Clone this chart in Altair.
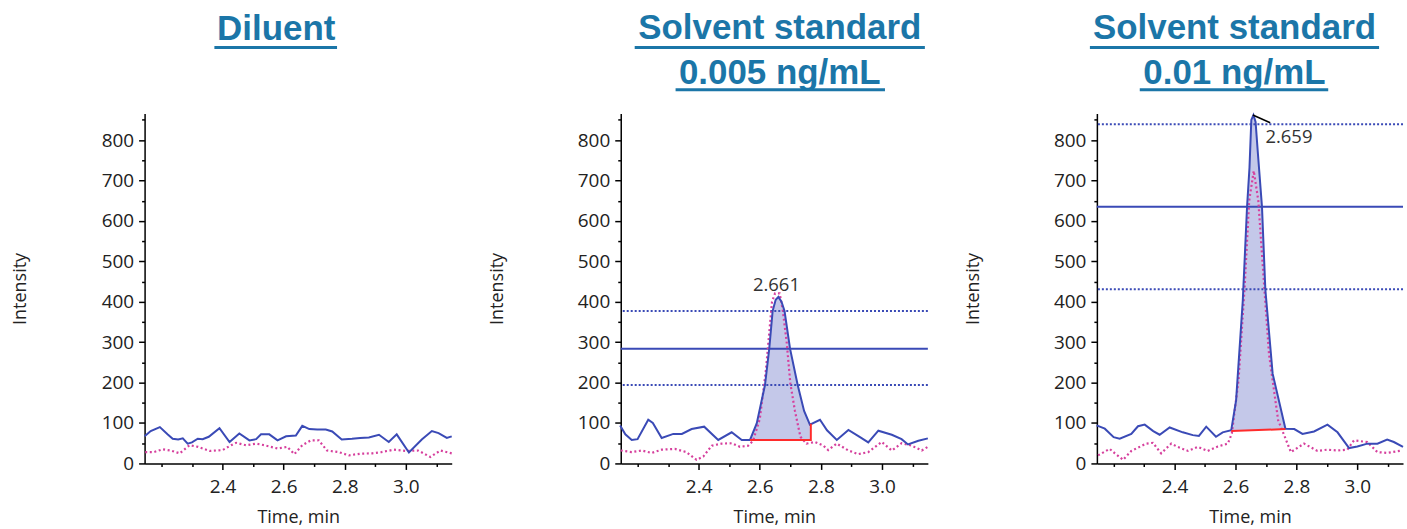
import altair as alt
import pandas as pd
import numpy as np

# ---------------- data ----------------
# Panel 1: Diluent
p1_blue_t = [2.145, 2.165, 2.195, 2.22, 2.237, 2.255, 2.27, 2.286, 2.3, 2.319, 2.335, 2.355, 2.39, 2.423, 2.455,
             2.488, 2.51, 2.526, 2.553, 2.58, 2.608, 2.64, 2.661, 2.684, 2.71, 2.738, 2.759, 2.79, 2.824, 2.85,
             2.879, 2.912, 2.944, 2.97, 3.01, 3.052, 3.085, 3.107, 3.134, 3.15]
p1_blue_v = [67, 80, 90, 72, 61, 59, 62, 49, 52, 61, 60, 66, 87, 53, 74, 57, 60, 72, 72, 57,
             67, 69, 93, 85, 84, 84, 79, 59, 61, 63, 64, 71, 53, 72, 27, 59, 80, 75, 63, 67]
p1_pink_t = [2.147, 2.175, 2.204, 2.23, 2.26, 2.292, 2.32, 2.358, 2.4, 2.428, 2.445, 2.477, 2.51, 2.537, 2.58,
             2.612, 2.635, 2.661, 2.689, 2.715, 2.742, 2.78, 2.814, 2.85, 2.89, 2.92, 2.961, 2.998, 3.04, 3.08,
             3.113, 3.15]
p1_pink_v = [28, 28, 35, 32, 25, 45, 41, 31, 33, 45, 51, 45, 49, 45, 37, 41, 23, 45, 57, 57,
             32, 28, 20, 24, 25, 28, 34, 31, 32, 16, 32, 25]

# Panel 2: Solvent standard 0.005 ng/mL
p2_blue_t = [2.143, 2.16, 2.181, 2.2, 2.235, 2.25, 2.279, 2.317, 2.345, 2.377, 2.418, 2.464, 2.508, 2.541, 2.568,
             2.59, 2.617, 2.631, 2.642, 2.652, 2.661, 2.671, 2.681, 2.699, 2.724, 2.745, 2.764, 2.797, 2.82, 2.852,
             2.89, 2.928, 2.955, 2.988, 3.032, 3.064, 3.085, 3.119, 3.15]
p2_blue_v = [94, 72, 58, 60, 108, 100, 63, 73, 73, 85, 91, 58, 77, 58, 58, 99, 194, 284, 377, 405,
             412, 400, 377, 284, 194, 130, 96, 108, 82, 58, 83, 65, 52, 81, 71, 60, 47, 56, 62]
p2_pink_t = [2.145, 2.181, 2.214, 2.246, 2.279, 2.322, 2.36, 2.393, 2.415, 2.443, 2.475, 2.508, 2.535, 2.562,
             2.578, 2.6, 2.62, 2.64, 2.65, 2.665, 2.675, 2.688, 2.70, 2.715, 2.733, 2.753, 2.78, 2.808, 2.824,
             2.852, 2.89, 2.922, 2.955, 2.999, 3.032, 3.064, 3.097, 3.13, 3.15]
p2_pink_v = [32, 28, 32, 26, 34, 36, 28, 9, 17, 44, 49, 50, 41, 44, 56, 110, 230, 400, 421, 421,
             380, 300, 198, 130, 66, 49, 53, 44, 33, 49, 32, 23, 28, 53, 32, 50, 44, 32, 41]
p2_base_t = [2.568, 2.767, 2.767]
p2_base_v = [58, 58, 98]
p2_solid = [284]
p2_dotted = [377, 194]
p2_label_t = [2.661]
p2_label_v = [412]
p2_label = ["2.661"]

# Panel 3: Solvent standard 0.01 ng/mL
p3_blue_t = [2.144, 2.171, 2.2, 2.22, 2.258, 2.28, 2.302, 2.33, 2.351, 2.384, 2.427, 2.46, 2.48, 2.504, 2.536,
             2.558, 2.586, 2.602, 2.624, 2.638, 2.646, 2.652, 2.659, 2.666, 2.673, 2.687, 2.698, 2.722, 2.764,
             2.793, 2.82, 2.858, 2.902, 2.935, 2.973, 3.0, 3.033, 3.066, 3.098, 3.12, 3.15]
p3_blue_v = [94, 86, 65, 61, 73, 92, 96, 80, 71, 89, 77, 70, 68, 91, 66, 77, 82, 156, 403, 635,
             732, 850, 862, 845, 773, 635, 431, 222, 86, 85, 73, 79, 96, 77, 38, 42, 49, 49, 59, 53, 41]
p3_pink_t = [2.149, 2.187, 2.204, 2.231, 2.258, 2.307, 2.329, 2.356, 2.389, 2.41, 2.444, 2.477, 2.509, 2.542,
             2.575, 2.588, 2.61, 2.63, 2.645, 2.66, 2.675, 2.69, 2.71, 2.74, 2.765, 2.782, 2.825, 2.869, 2.9,
             2.935, 2.967, 2.989, 3.033, 3.066, 3.098, 3.147]
p3_pink_v = [20, 36, 25, 9, 31, 49, 51, 25, 49, 41, 31, 41, 31, 42, 49, 74, 206, 436, 650, 724,
             650, 485, 271, 107, 60, 28, 49, 31, 34, 32, 34, 57, 53, 28, 26, 32]
p3_base_t = [2.586, 2.764]
p3_base_v = [80, 85]
p3_solid = [635]
p3_dotted = [839, 431]
p3_label_t = [2.659]
p3_label_v = [862]
p3_label = ["2.659"]
p3_arrow = {"t": [2.657], "v": [862], "t2": [2.714], "v2": [843]}

titles = [["Diluent"], ["Solvent standard", "0.005 ng/mL"], ["Solvent standard", "0.01 ng/mL"]]

X_TICKS = [2.2, 2.3, 2.4, 2.5, 2.6, 2.7, 2.8, 2.9, 3.0, 3.1]
Y_TICKS = [0, 50, 100, 150, 200, 250, 300, 350, 400, 450, 500, 550, 600, 650, 700, 750, 800, 850]
X_DOMAIN = [2.145, 3.15]
Y_DOMAIN = [0, 866]

# ---------------- style ----------------
BLUE = "#3a4ab6"
PINK = "#d6409d"
RED = "#ff2b2b"
TITLE_C = "#1b76a8"
TEXT_C = "#222222"
H = 351

X_MAJOR = "indexof([2.4, 2.6, 2.8, 3], datum.value) >= 0"
Y_MAJOR = "datum.value % 100 === 0"


def enc_x():
    return alt.X("t:Q", scale=alt.Scale(domain=X_DOMAIN, nice=False, zero=False),
                 axis=alt.Axis(values=X_TICKS, title="Time, min",
                               labelExpr=f"{X_MAJOR} ? format(datum.value, '.1f') : ''",
                               tickSize={"condition": {"test": X_MAJOR, "value": 6}, "value": 3},
                               labelOverlap=False, labelFlush=False, labelPadding=8,
                               titleY=59, titleBaseline="alphabetic"))


def enc_y():
    return alt.Y("v:Q", scale=alt.Scale(domain=Y_DOMAIN, nice=False, zero=True),
                 axis=alt.Axis(values=Y_TICKS, title="Intensity",
                               labelExpr=f"{Y_MAJOR} ? format(datum.value, 'd') : ''",
                               tickSize={"condition": {"test": Y_MAJOR, "value": 6}, "value": 3},
                               labelOverlap=False, labelFlush=False, labelPadding=5,
                               titleX=-124, titleY=H / 2, titleBaseline="middle", titleAngle=270))


def panel(idx, bt, bv, pt, pv, width, cx, underlines, base_t=None, base_v=None,
          solid=(), dotted=(), lab_t=None, lab_v=None, lab=None, lab_align="center",
          lab_dx=0, lab_dy=0, arrow=None):
    layers = []
    blue = pd.DataFrame({"t": bt, "v": bv})
    pink = pd.DataFrame({"t": pt, "v": pv})
    if base_t is not None:
        seg = blue[(blue["t"] >= base_t[0]) & (blue["t"] <= base_t[1])].copy()
        seg["base"] = np.interp(seg["t"], base_t[:2], base_v[:2])
        layers.append(alt.Chart(seg).mark_area(color=BLUE, opacity=0.3, line=False)
                      .encode(x=enc_x(), y=enc_y(), y2="base:Q"))
    if len(solid):
        layers.append(alt.Chart(pd.DataFrame({"v": list(solid)})).mark_rule(color=BLUE, strokeWidth=2)
                      .encode(y=enc_y()))
    if len(dotted):
        layers.append(alt.Chart(pd.DataFrame({"v": list(dotted)}))
                      .mark_rule(color=BLUE, strokeWidth=2, strokeDash=[2, 2])
                      .encode(y=enc_y()))
    layers.append(alt.Chart(pink).mark_line(color=PINK, strokeWidth=2.2, strokeDash=[2, 2.6])
                  .encode(x=enc_x(), y=enc_y()))
    layers.append(alt.Chart(blue).mark_line(color=BLUE, strokeWidth=2)
                  .encode(x=enc_x(), y=enc_y()))
    if base_t is not None:
        base = pd.DataFrame({"t": base_t, "v": base_v, "i": list(range(len(base_t)))})
        layers.append(alt.Chart(base).mark_line(color=RED, strokeWidth=2)
                      .encode(x=enc_x(), y=enc_y(), order="i:Q"))
    if lab is not None:
        ld = pd.DataFrame({"t": lab_t, "v": lab_v, "label": lab})
        layers.append(alt.Chart(ld).mark_text(font="Open Sans", fontSize=18.5, color="#333333",
                                              align=lab_align, baseline="alphabetic",
                                              dx=lab_dx, dy=lab_dy)
                      .encode(x=enc_x(), y=enc_y(), text="label:N"))
    if arrow is not None:
        layers.append(alt.Chart(pd.DataFrame(arrow)).mark_rule(color="black", strokeWidth=1.5)
                      .encode(x=enc_x(), y=enc_y(), x2="t2:Q", y2="v2:Q"))
    # title (underlined)
    lines = titles[idx]
    ys = [-74.0] if len(lines) == 1 else [-74.5, -29.8]
    for txt, yy in zip(lines, ys):
        layers.append(alt.Chart(pd.DataFrame({"txt": [txt]}))
                      .mark_text(font="Liberation Sans", fontSize=35, fontWeight="bold", color=TITLE_C,
                                 align="center", baseline="alphabetic")
                      .encode(text="txt:N", x=alt.value(cx), y=alt.value(yy)))
    for (x1, x2, yy) in underlines:
        layers.append(alt.Chart(pd.DataFrame({"u": [0]}))
                      .mark_rule(color=TITLE_C, strokeWidth=3)
                      .encode(x=alt.value(x1), x2=alt.value(x2), y=alt.value(yy)))
    return alt.layer(*layers).properties(width=width, height=H)


c1 = panel(0, p1_blue_t, p1_blue_v, p1_pink_t, p1_pink_v, 308, 132, [(70, 193, -66.0)])
c2 = panel(1, p2_blue_t, p2_blue_v, p2_pink_t, p2_pink_v, 308, 159.5,
           [(14, 305, -66.0), (55, 265, -23.7)], base_t=p2_base_t, base_v=p2_base_v,
           solid=p2_solid, dotted=p2_dotted, lab_t=p2_label_t, lab_v=p2_label_v, lab=p2_label,
           lab_align="center", lab_dx=-2, lab_dy=-6)
c3 = panel(2, p3_blue_t, p3_blue_v, p3_pink_t, p3_pink_v, 307, 138,
           [(-7, 283, -66.0), (43, 232, -23.7)], base_t=p3_base_t, base_v=p3_base_v,
           solid=p3_solid, dotted=p3_dotted, lab_t=p3_label_t, lab_v=p3_label_v, lab=p3_label,
           lab_align="left", lab_dx=12, lab_dy=28, arrow=p3_arrow)

chart = (alt.hconcat(c1, c2, c3, spacing=169.5, bounds="flush")
         .properties(padding={"left": 12, "top": 10, "right": 0, "bottom": 0})
         .configure_view(stroke=None)
         .configure_axis(domainColor="black", domainWidth=1.5, tickColor="black", tickWidth=1.5,
                         labelFont="Open Sans", labelFontSize=19, labelColor=TEXT_C,
                         titleFont="Open Sans", titleFontSize=18, titleFontWeight="normal",
                         titleColor=TEXT_C, grid=False))

chart.save("out.html", embed_options={"renderer": "svg", "actions": False})
